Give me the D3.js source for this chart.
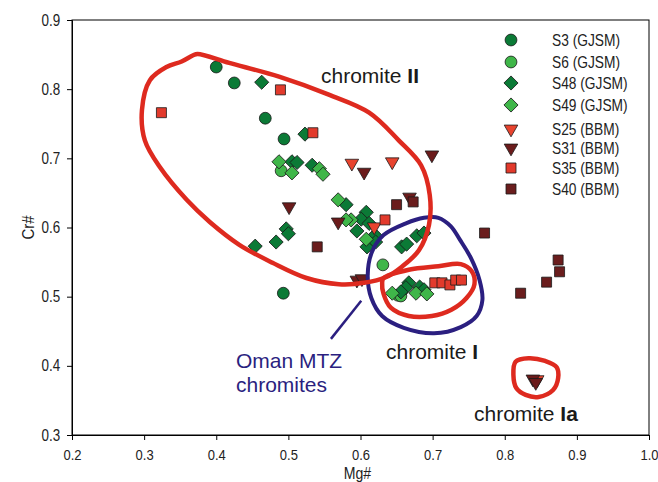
<!DOCTYPE html>
<html><head><meta charset="utf-8">
<script src="https://cdn.jsdelivr.net/npm/d3@7"></script>
<style>
body{margin:0;background:#fff;}
text{font-family:"Liberation Sans",Arial,sans-serif;}
</style></head>
<body><svg id="c" width="658" height="482"></svg>
<script>
// ---- data (Mg#, Cr#) ----
const S3  = [[0.400,0.832],[0.425,0.809],[0.468,0.758],[0.494,0.728],[0.493,0.505]];
const S6  = [[0.490,0.682],[0.631,0.546],[0.652,0.502],[0.656,0.501]];
const S48 = [[0.463,0.810],[0.523,0.735],[0.505,0.695],[0.512,0.694],[0.533,0.690],[0.580,0.633],
             [0.608,0.622],[0.601,0.612],[0.612,0.606],[0.497,0.598],[0.500,0.591],[0.483,0.579],
             [0.454,0.573],[0.595,0.595],[0.620,0.589],[0.609,0.572],[0.621,0.579],[0.657,0.572],
             [0.664,0.576],[0.678,0.588],[0.688,0.592],[0.667,0.520],[0.663,0.513],[0.656,0.507],
             [0.682,0.514],[0.688,0.510]];
const S49 = [[0.487,0.695],[0.505,0.679],[0.543,0.685],[0.548,0.677],[0.569,0.640],[0.587,0.611],
             [0.580,0.611],[0.608,0.583],[0.644,0.505],[0.677,0.505],[0.692,0.504]];
const S25 = [[0.588,0.693],[0.644,0.695],[0.619,0.601],[0.845,0.380]];
const S31 = [[0.605,0.680],[0.699,0.705],[0.501,0.630],[0.569,0.608],[0.668,0.644],[0.595,0.524],
             [0.602,0.526],[0.839,0.381],[0.843,0.376]];
const S35 = [[0.489,0.799],[0.324,0.766],[0.534,0.737],[0.634,0.611],[0.703,0.520],[0.713,0.520],
             [0.724,0.517],[0.732,0.524],[0.740,0.524]];
const S40 = [[0.650,0.633],[0.673,0.637],[0.540,0.572],[0.772,0.592],[0.874,0.553],[0.876,0.536],
             [0.858,0.521],[0.822,0.505]];

const seriesNames = ["S3 (GJSM)","S6 (GJSM)","S48 (GJSM)","S49 (GJSM)","S25 (BBM)","S31 (BBM)","S35 (BBM)","S40 (BBM)"];
const xTicks = [0.2,0.3,0.4,0.5,0.6,0.7,0.8,0.9,1.0];
const yTicks = [0.3,0.4,0.5,0.6,0.7,0.8,0.9];

// field outlines (Mg#, Cr#)
const chromiteII = [[0.374,0.851],[0.418,0.838],[0.487,0.818],[0.556,0.792],[0.612,0.766],[0.653,0.726],
  [0.684,0.690],[0.696,0.647],[0.695,0.604],[0.681,0.567],[0.657,0.543],[0.635,0.528],[0.605,0.520],
  [0.570,0.518],[0.525,0.527],[0.478,0.549],[0.432,0.575],[0.391,0.608],[0.359,0.640],[0.322,0.687],
  [0.301,0.726],[0.297,0.770],[0.308,0.813],[0.331,0.832],[0.352,0.840],[0.368,0.849]];
const chromiteI = [[0.632,0.527],[0.667,0.539],[0.708,0.544],[0.739,0.547],[0.754,0.537],[0.758,0.518],
  [0.747,0.498],[0.726,0.481],[0.699,0.472],[0.667,0.472],[0.642,0.484],[0.632,0.504],[0.630,0.520]];
const chromiteIa = [[0.815,0.406],[0.833,0.411],[0.856,0.407],[0.872,0.398],[0.874,0.382],[0.867,0.365],
  [0.847,0.355],[0.829,0.358],[0.816,0.368],[0.812,0.387]];
const omanMTZ = [[0.708,0.614],[0.725,0.602],[0.738,0.582],[0.753,0.556],[0.765,0.524],[0.769,0.495],
  [0.761,0.472],[0.739,0.456],[0.702,0.447],[0.660,0.455],[0.630,0.472],[0.615,0.498],[0.610,0.531],
  [0.616,0.565],[0.632,0.589],[0.663,0.606],[0.688,0.614]];
const omanPointer = [[0.559,0.439],[0.601,0.494]];

// ---- chart ----
const svg = d3.select("#c");
const L=72, R=649, T=20, B=435;
const x = d3.scaleLinear().domain([0.2,1.0]).range([L,R]);
const y = d3.scaleLinear().domain([0.3,0.9]).range([B,T]);

// frame
svg.append("rect").attr("x",L).attr("y",T).attr("width",R-L).attr("height",B-T)
  .attr("fill","none").attr("stroke","#000").attr("stroke-width",1);

const xAxis = svg.append("g").attr("transform",`translate(0,${B})`)
  .call(d3.axisBottom(x).tickValues(xTicks).tickFormat(d3.format(".1f")).tickSize(5).tickPadding(9));
const yAxis = svg.append("g").attr("transform",`translate(${L},0)`)
  .call(d3.axisLeft(y).tickValues(yTicks).tickFormat(d3.format(".1f")).tickSize(5).tickPadding(7));
[xAxis,yAxis].forEach(g=>{
  g.selectAll("text").attr("font-size",16).attr("fill","#222");
  g.selectAll("path,line").attr("stroke","#000");
});
xAxis.selectAll("text").attr("font-size",15.5);
// narrow glyphs like the reference
xAxis.selectAll(".tick text").attr("transform","scale(0.84,1)");
yAxis.selectAll(".tick text").attr("x",-14).attr("transform","scale(0.84,1)");

svg.append("text").attr("transform",`translate(${(L+R)/2-3},479) scale(0.88,1)`).attr("text-anchor","middle")
  .attr("font-size",16).attr("fill","#222").text("Mg#");
svg.append("text").attr("transform",`translate(34,${(T+B)/2}) rotate(-90) scale(0.88,1)`).attr("text-anchor","middle")
  .attr("font-size",17).attr("fill","#222").text("Cr#");

// symbols
const dkGreen="#0b7a36", ltGreen="#3fb649", ltRed="#e8432e", dkRed="#6b1b1b", red35="#e23a2c", red40="#6a1d1d";
const styles = [
  {data:S3,  type:d3.symbolCircle, size:110, rot:0,   fill:dkGreen},
  {data:S6,  type:d3.symbolCircle, size:110, rot:0,   fill:ltGreen},
  {data:S48, type:d3.symbolSquare, size:100, rot:45,  fill:dkGreen},
  {data:S49, type:d3.symbolSquare, size:100, rot:45,  fill:ltGreen},
  {data:S25, type:d3.symbolTriangle, size:80, rot:180, fill:ltRed},
  {data:S31, type:d3.symbolTriangle, size:80, rot:180, fill:dkRed},
  {data:S35, type:d3.symbolSquare, size:100, rot:0,   fill:red35},
  {data:S40, type:d3.symbolSquare, size:100, rot:0,   fill:red40}
];
const sym = s => d3.symbol().type(s.type).size(s.size)();

styles.forEach(s=>{
  svg.append("g").selectAll("path").data(s.data).join("path")
    .attr("d",sym(s))
    .attr("transform",d=>`translate(${x(d[0])},${y(d[1])}) rotate(${s.rot})`)
    .attr("fill",s.fill).attr("stroke","#1a1a1a").attr("stroke-width",0.8);
});

// outlines
const line = d3.line().x(d=>x(d[0])).y(d=>y(d[1])).curve(d3.curveCatmullRomClosed.alpha(0.5));
svg.append("path").attr("d",line(omanMTZ)).attr("fill","none").attr("stroke","#2b1f80").attr("stroke-width",4);
svg.append("path").attr("d",d3.line().x(d=>x(d[0])).y(d=>y(d[1]))(omanPointer))
  .attr("fill","none").attr("stroke","#2b1f80").attr("stroke-width",2.5);
[chromiteII,chromiteI,chromiteIa].forEach(p=>{
  svg.append("path").attr("d",line(p)).attr("fill","none").attr("stroke","#de2a1f").attr("stroke-width",4.5);
});

// labels
const lab = (tx,ty,main,bold,color)=>{
  const t = svg.append("text").attr("x",tx).attr("y",ty).attr("font-size",21).attr("fill",color||"#1a1a1a");
  t.append("tspan").text(main);
  if(bold) t.append("tspan").attr("font-weight","bold").text(bold);
};
lab(321,83,"chromite ","II");
lab(386,359,"chromite ","I");
lab(474,421,"chromite ","Ia");
lab(236,368,"Oman MTZ",null,"#2b1f80");
lab(236,392,"chromites",null,"#2b1f80");

// legend
const legY=[40,62,83,105,129,148,168,189];
const leg = svg.append("g");
styles.forEach((s,i)=>{
  leg.append("path").attr("d",sym(s)).attr("transform",`translate(511,${legY[i]}) rotate(${s.rot})`)
    .attr("fill",s.fill).attr("stroke","#1a1a1a").attr("stroke-width",0.8);
  leg.append("text").attr("transform",`translate(552,${legY[i]+6}) scale(0.86,1)`).attr("font-size",16)
    .attr("fill","#222").text(seriesNames[i]);
});
</script></body></html>
